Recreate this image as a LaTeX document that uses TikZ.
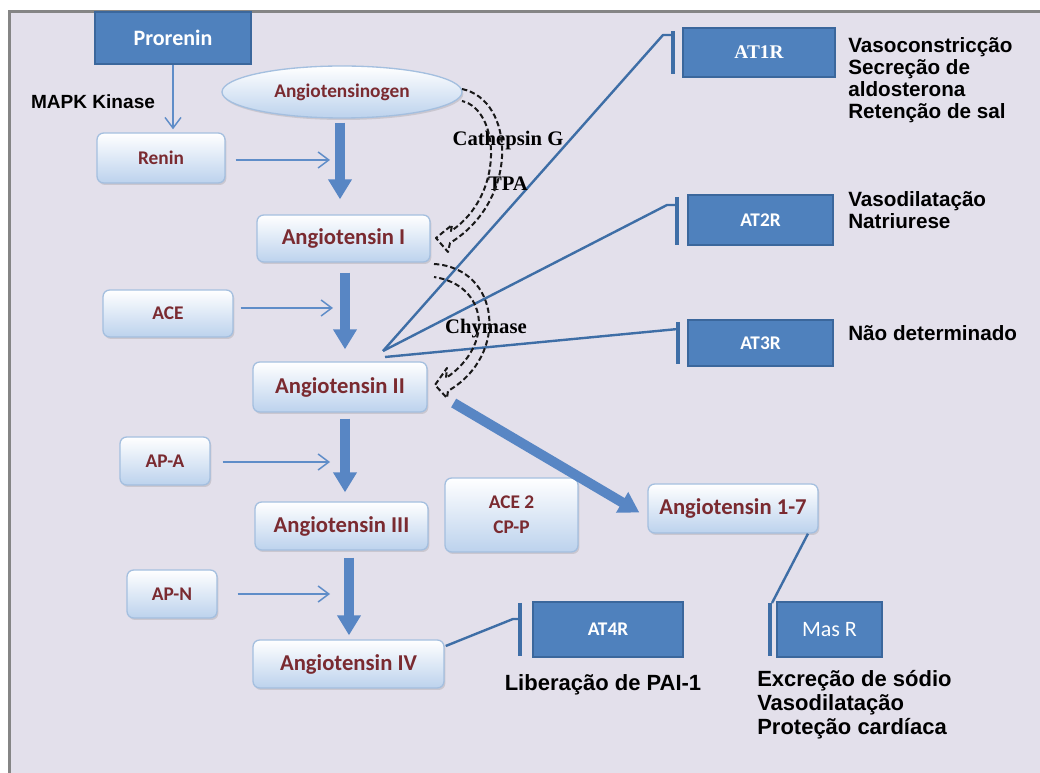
\documentclass[tikz,border=0pt]{standalone}
\usepackage{fontspec}
\setmainfont{Liberation Sans}
\newfontfamily\calfont{Carlito}
\newfontfamily\tnrfont{Liberation Serif}
\usetikzlibrary{arrows.meta,calc,shadows,shapes.geometric}
\definecolor{bgcol}{HTML}{E3E0EB}
\definecolor{framegray}{HTML}{858585}
\definecolor{boxedge}{HTML}{A4BFDF}
\definecolor{boxbot}{HTML}{BCD2ED}
\definecolor{txtred}{HTML}{7A2A30}
\definecolor{darkfill}{HTML}{4F81BD}
\definecolor{darkedge}{HTML}{3B679C}
\definecolor{arrblue}{HTML}{5886C4}
\definecolor{thinblue}{HTML}{5F8DC8}
\definecolor{inhblue}{HTML}{3E6EA6}
\tikzset{
  sz/.style 2 args={minimum width=#1*0.75pt, minimum height=#2*0.75pt},
  rbox/.style={rounded corners=5pt, draw=boxedge, line width=1pt, top color=white, bottom color=boxbot,
    drop shadow={shadow xshift=1pt,shadow yshift=-1.5pt,opacity=0.25}, text=txtred, inner sep=0pt, align=center},
  angfont/.style={font=\calfont\bfseries\fontsize{17}{20}\selectfont},
  enzfont/.style={font=\calfont\bfseries\fontsize{14.5}{19}\selectfont},
  dbox/.style={draw=darkedge, line width=1.5pt, fill=darkfill, text=white, inner sep=0pt},
  tharrow/.style={draw=arrblue, line width=7.5pt, -{Triangle[length=15pt,width=17pt]}},
  thinarrow/.style={draw=thinblue, line width=1.1pt, -{Straight Barb[length=8pt,width=12pt]}},
  inhline/.style={draw=inhblue, line width=1.8pt, line join=round},
  inhbar/.style={draw=inhblue, line width=2.3pt},
  dasharrow/.style={draw=black!90, line width=1.5pt, dash pattern=on 4pt off 2.2pt, line join=round},
  rtext/.style={font=\bfseries\fontsize{15.5}{16.5}\selectfont, align=left, inner sep=0pt, anchor=north west},
  btext/.style={font=\bfseries\fontsize{16.5}{18}\selectfont, align=left, inner sep=0pt},
  lbl/.style={font=\tnrfont\bfseries\fontsize{15.5}{17}\selectfont, inner sep=0pt}
}
\begin{document}
\begin{tikzpicture}[x=0.75pt,y=-0.75pt]
\useasboundingbox (0,0) rectangle (1040,773);
\fill[white] (0,0) rectangle (1040,773);
\fill[bgcol] (10,12) rectangle (1045,780);
\draw[framegray, line width=2.3pt] (9.5,780) -- (9.5,11.5) -- (1045,11.5);

% dark boxes
\node[dbox, sz={156}{52}, font=\calfont\bfseries\fontsize{16.5}{19}\selectfont] (prorenin) at (173,38) {Prorenin};
\node[dbox, sz={152}{49}, font=\tnrfont\bfseries\fontsize{14.5}{17}\selectfont] (at1r) at (759,52.5) {AT1R};
\node[dbox, sz={145}{50}, font=\calfont\bfseries\fontsize{14.5}{17}\selectfont] (at2r) at (760.5,220) {AT2R};
\node[dbox, sz={145}{46}, font=\calfont\bfseries\fontsize{14.5}{17}\selectfont] (at3r) at (760.5,343) {AT3R};
\node[dbox, sz={150}{55}, font=\calfont\bfseries\fontsize{14.5}{17}\selectfont] (at4r) at (608,629.5) {AT4R};
\node[dbox, sz={105}{55}, font=\calfont\fontsize{16.5}{19}\selectfont] (masr) at (829.5,629.5) {Mas R};

% light boxes
\node[ellipse, draw=boxedge, line width=1pt, top color=white, bottom color=boxbot, text=txtred,
  drop shadow={shadow xshift=1pt,shadow yshift=-1.5pt,opacity=0.25}, inner sep=0pt, sz={240}{52},
  font=\calfont\bfseries\fontsize{14.5}{17}\selectfont] (ang) at (342,92) {Angiotensinogen};
\node[rbox, enzfont, sz={128}{50}] (renin) at (161,158) {Renin};
\node[rbox, angfont, sz={173}{47}] (a1) at (343.5,238.5) {Angiotensin I};
\node[rbox, enzfont, sz={130}{47}] (ace) at (168,313.5) {ACE};
\node[rbox, angfont, sz={174}{50}] (a2) at (340,387) {Angiotensin II};
\node[rbox, enzfont, sz={90}{48}] (apa) at (165,461) {AP-A};
\node[rbox, angfont, sz={173}{48}] (a3) at (341.5,526) {Angiotensin III};
\node[rbox, enzfont, sz={133}{74}] (ace2) at (511.5,515) {ACE 2\\CP-P};
\node[rbox, enzfont, sz={90}{48}] (apn) at (172,594) {AP-N};
\node[rbox, angfont, sz={191}{48}] (a4) at (348.5,664) {Angiotensin IV};
\node[rbox, angfont, sz={170}{49}] (a17) at (733,508.5) {Angiotensin 1-7};

% texts
\node[font=\bfseries\fontsize{14.3}{17}\selectfont, inner sep=0pt] (mapk) at (93,102) {MAPK Kinase};
\node[rtext] (t1) at (848,37) {Vasoconstricção\\Secreção de\\aldosterona\\Retenção de sal};
\node[rtext] (t2) at (848,191) {Vasodilatação\\Natriurese};
\node[rtext] (t3) at (848,325) {Não determinado};
\node[btext] (t4) at (603,685) {Liberação de PAI-1};
\node[btext, anchor=north west] (t5) at (757,670) {Excreção de sódio\\Vasodilatação\\Proteção cardíaca};

% thin arrows
\coordinate (rt) at (330,160);
\coordinate (acet) at (333,308);
\coordinate (apat) at (330,462);
\coordinate (apnt) at (330,594);
\draw[thinarrow] (prorenin.south) -- ($(prorenin.south |- renin.north)+(0,-3)$);
\draw[thinarrow] ($(renin.east)+(10,2)$) -- (rt);
\draw[thinarrow] ($(ace.east)+(7,-5.5)$) -- (acet);
\draw[thinarrow] ($(apa.east)+(12,1)$) -- (apat);
\draw[thinarrow] ($(apn.east)+(20,0)$) -- (apnt);

% thick arrows
\draw[tharrow] ($(ang.south)+(-2,4)$) -- ($(ang.south |- a1.north)+(-2,-15)$);
\draw[tharrow] ($(a1.south)+(1.5,10)$) -- ($(a1.south |- a2.north)+(1.5,-12)$);
\draw[tharrow] ($(a2.south)+(5,6)$) -- ($(a2.south |- a3.north)+(5,-9)$);
\draw[tharrow] ($(a3.south)+(7.5,7)$) -- ($(a3.south |- a4.north)+(7.5,-4)$);
\draw[tharrow] ($(a2.east)+(26,16)$) -- ($(a17.west)+(-8,4)$);

% inhibition connectors
\coordinate (apex) at (383,351);
\coordinate (apexb) at (385,357);
\coordinate (b1t) at (673,31); \coordinate (b1b) at (673,74);
\coordinate (b2t) at (677,197); \coordinate (b2b) at (677,245);
\coordinate (b3t) at (678,322); \coordinate (b3b) at (678,364);
\coordinate (b4t) at (520,603); \coordinate (b4b) at (520,656);
\coordinate (b5t) at (770,603); \coordinate (b5b) at (770,656);
\draw[inhline] (apex) -- (663,35) -- (b1t |- 0,35);
\draw[inhbar] (b1t) -- (b1b);
\draw[inhline] (apex) -- (667,205) -- (b2t |- 0,205);
\draw[inhbar] (b2t) -- (b2b);
\draw[inhline] (apexb) -- (b3t |- 0,329);
\draw[inhbar] (b3t) -- (b3b);
\draw[inhline] ($(a4.east)+(1,-18)$) -- (513,619) -- (b4t |- 0,619);
\draw[inhbar] (b4t) -- (b4b);
\draw[inhline] ($(a17.south)+(75,0)$) -- ($(b5t)+(2,0)$);
\draw[inhbar] (b5t) -- (b5b);

% labels
\node[lbl] (catg) at (508,141) {Cathepsin G};
\node[lbl] (tpa) at (508,184) {TPA};
\node[lbl] (chy) at (486,329) {Chymase};

% dashed block arrows
\draw[dasharrow] (462,89) .. controls (515,100) and (520,200) .. (450,243) -- (448,252) -- (436,238) -- (452,225) -- (451,231) .. controls (505,195) and (500,110) .. (462,101);
\draw[dasharrow] (434,264) .. controls (500,268) and (510,355) .. (448,391) -- (447,398) -- (435,385) -- (447,368) -- (446,378) .. controls (495,345) and (488,285) .. (434,277);
\end{tikzpicture}
\end{document}
